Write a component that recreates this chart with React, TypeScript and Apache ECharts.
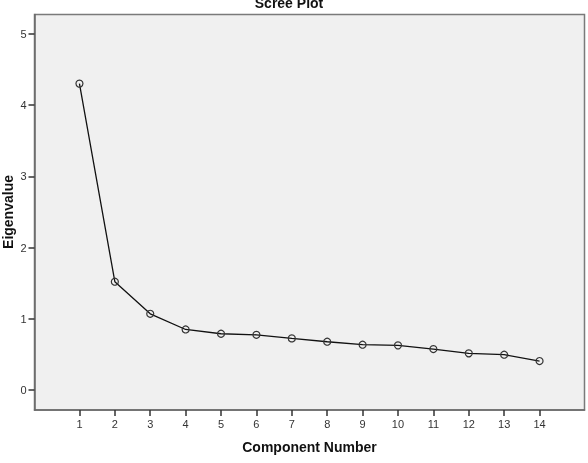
import React, { useEffect, useRef } from "react";
import * as echarts from "echarts";

const components = [1, 2, 3, 4, 5, 6, 7, 8, 9, 10, 11, 12, 13, 14];
const eigenvalues = [4.3, 1.52, 1.07, 0.85, 0.79, 0.775, 0.725, 0.678, 0.636, 0.627, 0.575, 0.515, 0.496, 0.407];
const yTicks = [0, 1, 2, 3, 4, 5];
const xTicks = components;

export default function App() {
  const ref = useRef<HTMLDivElement>(null);
  useEffect(() => {
    if (!ref.current) return;
    const chart = echarts.init(ref.current, null, { renderer: "svg" });
    const font = "'Liberation Sans', Arial, sans-serif";
    chart.setOption({
      animation: false,
      grid: {
        left: 34.5,
        top: 14.5,
        right: 3.5,
        bottom: 53,
        show: true,
        backgroundColor: "#f0f0f0",
        borderColor: "#7a7a7a",
        borderWidth: 1.5,
      },
      xAxis: {
        type: "value",
        min: -0.27,
        max: 15.27,
        axisLine: { show: true, onZero: false, lineStyle: { color: "#6a6a6a", width: 1.5 } },
        axisTick: { show: true, length: 6, customValues: xTicks, lineStyle: { color: "#333", width: 1.5 } },
        axisLabel: { customValues: xTicks, margin: 8, color: "#333", fontSize: 11, fontFamily: font },
        splitLine: { show: false },
      },
      yAxis: {
        type: "value",
        min: -0.28,
        max: 5.27,
        axisLine: { show: true, onZero: false, lineStyle: { color: "#6a6a6a", width: 1.5 } },
        axisTick: { show: true, length: 6, customValues: yTicks, lineStyle: { color: "#333", width: 1.5 } },
        axisLabel: { customValues: yTicks, margin: 8, color: "#333", fontSize: 11, fontFamily: font },
        splitLine: { show: false },
      },
      series: [
        {
          type: "line",
          data: components.map((c, i) => [c, eigenvalues[i]]),
          symbol: "circle",
          symbolSize: 7,
          showAllSymbol: true,
          lineStyle: { color: "#111", width: 1.3 },
          itemStyle: { color: "rgba(0,0,0,0)", borderColor: "#333", borderWidth: 1.2 },
          z: 3,
        },
      ],
      graphic: [
        {
          type: "text",
          x: 289,
          y: 3,
          style: { text: "Scree Plot", font: `bold 14px ${font}`, fill: "#111", align: "center", verticalAlign: "middle" },
        },
        {
          type: "text",
          x: 309.5,
          y: 447,
          style: { text: "Component Number", font: `bold 14px ${font}`, fill: "#111", align: "center", verticalAlign: "middle" },
        },
        {
          type: "text",
          x: 8,
          y: 212,
          rotation: Math.PI / 2,
          style: { text: "Eigenvalue", font: `bold 14px ${font}`, fill: "#111", align: "center", verticalAlign: "middle" },
        },
      ],
    });
    return () => chart.dispose();
  }, []);
  return <div ref={ref} style={{ position: "fixed", left: 0, top: 0, width: 588, height: 463 }} />;
}
